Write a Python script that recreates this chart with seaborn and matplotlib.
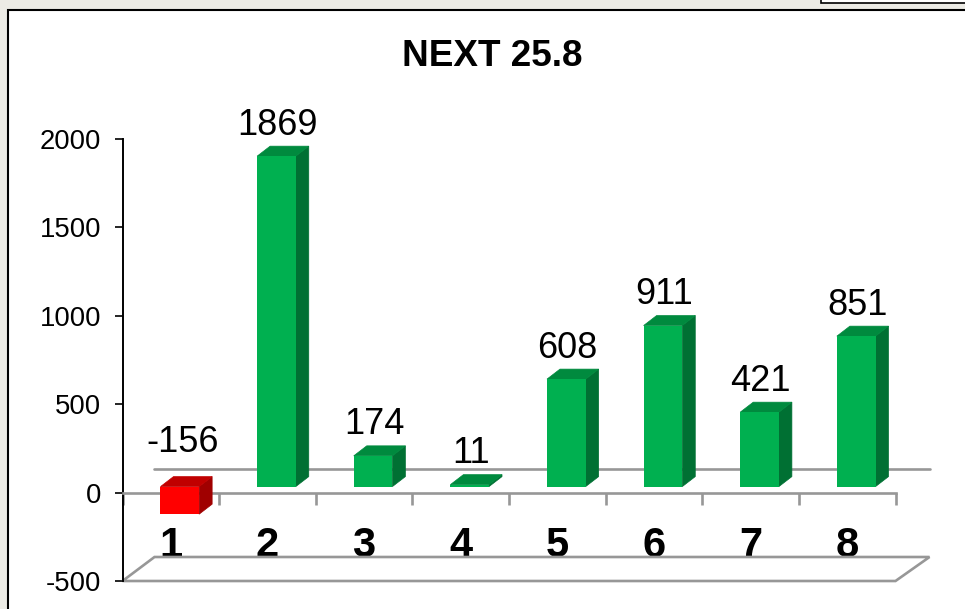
import matplotlib
matplotlib.use("Agg")
import matplotlib.pyplot as plt
from matplotlib.patches import Polygon, Rectangle
from matplotlib.transforms import Affine2D, IdentityTransform
import seaborn as sns
import pandas as pd

categories = ["1", "2", "3", "4", "5", "6", "7", "8"]
values = [-156, 1869, 174, 11, 608, 911, 421, 851]
y_ticks = [-500, 0, 500, 1000, 1500, 2000]
y_tick_labels = ["-500", "0", "500", "1000", "1500", "2000"]
title = "NEXT 25.8"

W, H = 965, 609
GRAY = "#979797"
BAR_FRONT = {"pos": "#00b050", "neg": "#ff0000"}
BAR_SIDE = {"pos": "#007033", "neg": "#a00000"}
BAR_TOP = {"pos": "#008a3e", "neg": "#c00000"}

sns.set_theme(style="white")
plt.rcParams["font.family"] = ["Liberation Sans", "DejaVu Sans"]

fig = plt.figure(figsize=(W / 100, H / 100), dpi=100, facecolor="#ecebe5")

# white panel, runs off the picture on the right and bottom
fig.add_artist(Rectangle((8, -10), W + 20, H, transform=IdentityTransform(),
                         facecolor="white", edgecolor="black", linewidth=1.5, zorder=-2))
# little box in the top right corner
fig.add_artist(Rectangle((821, H - 3), 200, 20, transform=IdentityTransform(),
                         facecolor="white", edgecolor="black", linewidth=1.2, zorder=-2))

ax = fig.add_axes([122.5 / W, (H - 581) / H, (895.5 - 122.5) / W, 442 / H])
ax.patch.set_visible(False)

df = pd.DataFrame({"cat": categories, "val": values})
df["sign"] = ["neg" if v < 0 else "pos" for v in values]
sns.barplot(data=df, x="cat", y="val", hue="sign", palette=BAR_FRONT, dodge=False,
            width=0.4, legend=False, saturation=1, ax=ax, zorder=5)

ax.set_xlim(-0.5, 7.5)
ax.set_ylim(-500, 2000)
ax.set_xlabel("")
ax.set_ylabel("")
ax.set_yticks(y_ticks, y_tick_labels)

sns.despine(ax=ax, top=True, right=True)
ax.spines["left"].set_color("black")
ax.spines["left"].set_linewidth(1.4)
ax.spines["bottom"].set_position(("data", 0))
ax.spines["bottom"].set_color(GRAY)
ax.spines["bottom"].set_linewidth(1.9)

ax.tick_params(axis="y", left=True, length=5.5, width=1.2, color="black",
               labelsize=19.8, pad=10, labelcolor="black")
ax.set_xticks(range(len(categories)), categories)
ax.set_xticks([i - 0.5 for i in range(len(categories) + 1)], minor=True)
ax.tick_params(axis="x", which="major", bottom=True, length=0, pad=24, labelsize=30)
ax.tick_params(axis="x", which="minor", bottom=True, length=8.5, width=1.9, color=GRAY)
for lab in ax.get_xticklabels():
    lab.set_fontweight("bold")
    lab.set_color("black")

fig.text(492 / W, (H - 56) / H, title, fontsize=26.6, fontweight="bold",
         ha="center", va="center", color="black")

# fake 3d: front faces sit a bit right/up of the axis, depth goes back to the wall
FRONT_DX, FRONT_DY = 9, 6
BAR_DX, BAR_DY = 13, 10
WALL_DY = 24


def px(x, y):
    return ax.transData.transform((x, y))


def add_px_poly(points, **kw):
    ax.add_patch(Polygon(points, closed=True, transform=IdentityTransform(), clip_on=False, **kw))


bars = [b for b in ax.patches if isinstance(b, Rectangle) and b.get_width() > 0]
bars = sorted(bars, key=lambda b: b.get_x())

# back line of the zero plane and the floor
x0, y0 = px(-0.5, 0)
x1, _ = px(7.5, 0)
ax.plot([x0 + 31, x1 + 34], [y0 + WALL_DY, y0 + WALL_DY], color=GRAY, lw=1.9,
        transform=IdentityTransform(), clip_on=False, zorder=1)
fx0, fy0 = px(-0.5, -500)
fx1, _ = px(7.5, -500)
add_px_poly([(fx0, fy0), (fx0 + 32, fy0 + WALL_DY), (fx1 + 34, fy0 + WALL_DY), (fx1, fy0)],
            facecolor="none", edgecolor=GRAY, linewidth=1.9, zorder=1)

shift = Affine2D().translate(FRONT_DX, FRONT_DY)
for bar, v in zip(bars, values):
    sign = "neg" if v < 0 else "pos"
    left, right = bar.get_x(), bar.get_x() + bar.get_width()
    bar.set_transform(ax.transData + shift)
    bar.set_clip_on(False)
    bar.set_linewidth(0)

    lx, top_y = px(left, max(v, 0))
    rx, _ = px(right, max(v, 0))
    _, bot_y = px(left, min(v, 0))
    lx, rx = lx + FRONT_DX, rx + FRONT_DX
    top_y, bot_y = top_y + FRONT_DY, bot_y + FRONT_DY

    add_px_poly([(rx, top_y), (rx + BAR_DX, top_y + BAR_DY), (rx + BAR_DX, bot_y + BAR_DY), (rx, bot_y)],
                facecolor=BAR_SIDE[sign], edgecolor=BAR_SIDE[sign], linewidth=0.5, zorder=4)
    add_px_poly([(lx, top_y), (lx + BAR_DX, top_y + BAR_DY), (rx + BAR_DX, top_y + BAR_DY), (rx, top_y)],
                facecolor=BAR_TOP[sign], edgecolor=BAR_TOP[sign], linewidth=0.5, zorder=4)

    gap = 44 if v < 0 else 31
    ax.annotate(str(v), xy=((left + right) / 2, max(v, 0)),
                xytext=(FRONT_DX + (3 if v < 0 else 1), FRONT_DY + gap),
                textcoords="offset pixels", ha="center", va="center", fontsize=26,
                color="black", annotation_clip=False, zorder=6)

fig.savefig("out.png", dpi=100, facecolor=fig.get_facecolor())
